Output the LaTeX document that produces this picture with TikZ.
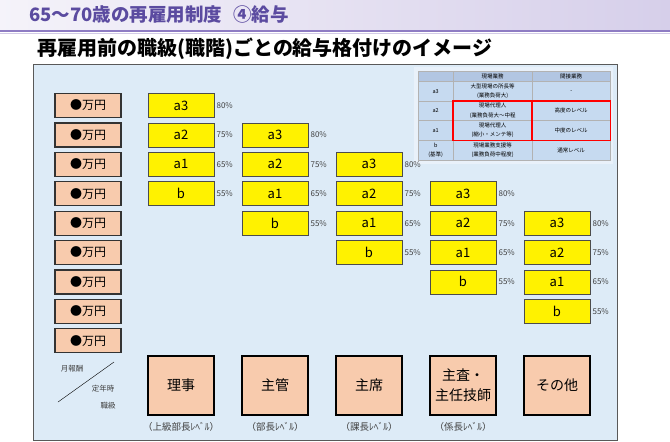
\documentclass[tikz,border=0pt]{standalone}
\usepackage{fontspec}
\setmainfont{Noto Sans CJK JP}
\usepackage{tikz}
\usetikzlibrary{positioning}
\usepackage{xcolor}
\definecolor{panelblue}{HTML}{DDEBF7}
\definecolor{peach}{HTML}{F8CBAD}
\definecolor{titlepurple}{HTML}{5B4BA0}
\definecolor{bandlav}{HTML}{D6CFEA}
\definecolor{rulepurple}{HTML}{8E7CC3}
\definecolor{cellblue}{HTML}{C6DAF0}
\definecolor{headblue}{HTML}{B2C6E2}
\definecolor{tablebg}{HTML}{E9F1FA}

\begin{document}
\begin{tikzpicture}[x=1pt,y=-1pt,
          every node/.style={inner sep=1pt},
          paybox/.style={draw=black!80,line width=1.2pt,fill=peach,minimum width=66pt,minimum height=24pt,font=\fontsize{12}{12}\selectfont},
          gradebox/.style={draw=black!70,line width=0.8pt,fill=yellow,minimum width=66pt,minimum height=24pt,font=\fontsize{13}{13}\selectfont},
          rankbox/.style={draw=black,line width=1.6pt,fill=peach,minimum width=66pt,minimum height=59pt,align=center,font=\fontsize{14}{20}\selectfont},
          pct/.style={font=\fontsize{8}{8}\selectfont,text=black!75},
          lvl/.style={font=\fontsize{9.5}{9.5}\selectfont,text=black!75},
          axis/.style={font=\fontsize{7.5}{7.5}\selectfont,text=black!75},
          cell/.style={draw=black!30,thin,fill=cellblue,anchor=north west,align=center,inner sep=0pt,font=\fontsize{5.5}{9.5}\selectfont},
        ]
        \useasboundingbox (0,0) rectangle (670,442);
        \shade[left color=bandlav!25,right color=bandlav] (0,0) rectangle (670,29);
        \draw[rulepurple,line width=2pt] (0,30.5) -- (670,30.5);
        \draw[rulepurple!40,line width=1pt] (0,33) -- (670,33);
        \node[anchor=west,text=titlepurple,font=\fontsize{18.5}{18.5}\selectfont\bfseries] (title) at (28,15) {65～70歳の再雇用制度\hspace{0.6em}④給与};
        \node[anchor=west,font=\fontsize{20}{20}\selectfont\bfseries] (subtitle) at (36,49) {再雇用前の職級(職階)ごとの給与格付けのイメージ};

        \draw[black!65,fill=panelblue] (33,64) rectangle (617,440);

        \fill[tablebg] (414,67) rectangle (613,164);
        \node[cell,fill=headblue,minimum width=35pt,minimum height=10pt] (t-0-1) at (418,71) {};
        \node[cell,fill=headblue,minimum width=79pt,minimum height=10pt] (t-0-2) at (453,71) {現場業務};
        \node[cell,fill=headblue,minimum width=78pt,minimum height=10pt] (t-0-3) at (532,71) {間接業務};
        \node[cell,minimum width=35pt,minimum height=20pt] (t-1-1) at (418,81) {a3};
        \node[cell,minimum width=79pt,minimum height=20pt] (t-1-2) at (453,81) {大型現場の所長等\\(業務負荷大)};
        \node[cell,minimum width=78pt,minimum height=20pt] (t-1-3) at (532,81) {-};
        \node[cell,minimum width=35pt,minimum height=19pt] (t-2-1) at (418,101) {a2};
        \node[cell,minimum width=79pt,minimum height=19pt] (t-2-2) at (453,101) {現場代理人\\(業務負荷大～中程};
        \node[cell,minimum width=78pt,minimum height=19pt] (t-2-3) at (532,101) {高度のレベル};
        \node[cell,minimum width=35pt,minimum height=20pt] (t-3-1) at (418,120) {a1};
        \node[cell,minimum width=79pt,minimum height=20pt] (t-3-2) at (453,120) {現場代理人\\(縮小・メンテ等)};
        \node[cell,minimum width=78pt,minimum height=20pt] (t-3-3) at (532,120) {中度のレベル};
        \node[cell,minimum width=35pt,minimum height=20pt] (t-4-1) at (418,140) {b\\(基準)};
        \node[cell,minimum width=79pt,minimum height=20pt] (t-4-2) at (453,140) {現場業務支援等\\(業務負荷中程度)};
        \node[cell,minimum width=78pt,minimum height=20pt] (t-4-3) at (532,140) {通常レベル};
        \draw[red,line width=1.3pt] (t-2-2.north west) rectangle (t-3-3.south east);
        \draw[red,line width=1.3pt] (t-2-3.north west) -- (t-3-3.south west);

        \foreach \r in {1,...,9}
          \node[paybox] (pay-\r) at (88,{105.5+(\r-1)*29.4}) {●万円};

        \foreach \c in {1,...,5}
          \foreach \g/\p [count=\k] in {a3/80,a2/75,a1/65,b/55} {
            \node[gradebox] (g-\c-\k) at ({181+(\c-1)*94},{105.5+(\c+\k-2)*29.4}) {\g};
            \node[pct,right=1pt of g-\c-\k] (p-\c-\k) {\p\%};
          }

        \foreach \t [count=\c] in {理事,主管,主席,{主査・\\主任技師},その他}
          \node[rankbox] (rank-\c) at ({181+(\c-1)*94},385.5) {\t};

        \node[lvl,below=5pt of rank-1] (lvl-1) {（上級部長ﾚﾍﾞﾙ）};
        \node[lvl,below=5pt of rank-2] (lvl-2) {（部長ﾚﾍﾞﾙ）};
        \node[lvl,below=5pt of rank-3] (lvl-3) {（課長ﾚﾍﾞﾙ）};
        \node[lvl,below=5pt of rank-4] (lvl-4) {（係長ﾚﾍﾞﾙ）};

        \coordinate (d1) at (58,402);
        \coordinate (d2) at (114,362);
        \draw[black,thin] (d1) -- (d2);
        \node[axis] (pay-ax) at (72,369) {月報酬};
        \node[axis] (rank-ax) at (103,389) {定年時};
        \node[axis] (rank-ax2) at (108,406) {職級};
      \end{tikzpicture}
\end{document}
